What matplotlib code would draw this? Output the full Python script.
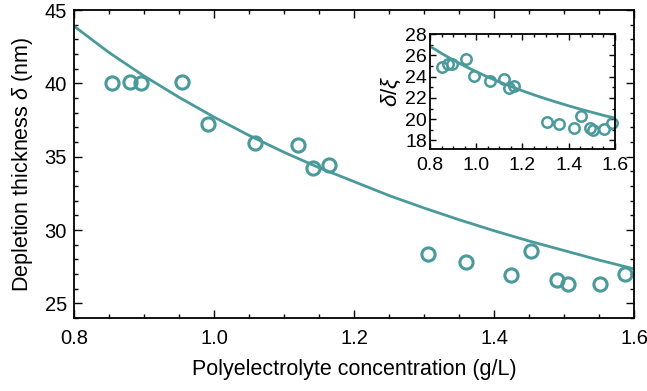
import numpy as np
import matplotlib.pyplot as plt
from matplotlib.ticker import MultipleLocator

# data
conc = [0.854, 0.880, 0.896, 0.954, 0.991, 1.059, 1.120, 1.141, 1.164,
        1.305, 1.360, 1.424, 1.453, 1.490, 1.505, 1.552, 1.587]
delta = [40.05, 40.1, 40.05, 40.1, 37.2, 35.95, 35.8, 34.25, 34.4,
         28.35, 27.8, 26.95, 28.6, 26.6, 26.3, 26.3, 27.0]
ratio = [24.9, 25.15, 25.2, 25.65, 24.05, 23.6, 23.8, 22.9, 23.15,
         19.7, 19.55, 19.15, 20.3, 19.15, 18.95, 19.05, 19.65]

# fitted curves, read every 0.05 g/L
fit_c = [0.8, 0.85, 0.9, 0.95, 1.0, 1.05, 1.1, 1.15, 1.2,
         1.25, 1.3, 1.35, 1.4, 1.45, 1.5, 1.55, 1.6]
fit_delta = [43.9, 42.1, 40.5, 39.05, 37.7, 36.45, 35.3, 34.25, 33.3,
             32.35, 31.5, 30.7, 29.95, 29.25, 28.6, 27.95, 27.35]
fit_ratio = [26.85, 26.18, 25.56, 24.99, 24.46, 23.96, 23.5, 23.07, 22.66,
             22.28, 21.92, 21.58, 21.25, 20.94, 20.65, 20.36, 20.1]

teal = "#4a9a9b"

plt.rcParams["font.family"] = ["Liberation Sans", "DejaVu Sans"]
plt.rcParams["mathtext.fontset"] = "custom"
plt.rcParams["mathtext.it"] = "Liberation Sans:italic"
plt.rcParams["mathtext.rm"] = "Liberation Sans"


def style_axes(ax, size=14.5):
    # inward ticks on all four sides
    ax.tick_params(which="both", direction="in", top=True, right=True,
                   labelsize=size, width=1.0, color="black")
    ax.tick_params(which="major", length=6)
    ax.tick_params(which="minor", length=3)
    for s in ax.spines.values():
        s.set_linewidth(1.3)


fig = plt.figure(figsize=(6.47, 3.91), dpi=100)
ax = fig.add_axes([0.1144, 0.1867, 0.8656, 0.7877])
ax.plot(fit_c, fit_delta, color=teal, lw=2)
ax.plot(conc, delta, "o", mfc="none", mec=teal, mew=2.2, ms=9.5, clip_on=False)
ax.set_xlim(0.8, 1.6)
ax.set_ylim(24, 45)
ax.xaxis.set_minor_locator(MultipleLocator(0.05))
ax.yaxis.set_major_locator(MultipleLocator(5))
ax.yaxis.set_minor_locator(MultipleLocator(1))
ax.set_xticks([0.8, 1.0, 1.2, 1.4, 1.6])
ax.set_xticklabels(["0.8", "1.0", "1.2", "1.4", "1.6"])
style_axes(ax)
ax.tick_params(axis="x", pad=8)
ax.tick_params(axis="y", pad=5)
ax.set_xlabel("Polyelectrolyte concentration (g/L)", fontsize=15.5, labelpad=8)
ax.set_ylabel(r"Depletion thickness $\delta$ (nm)", fontsize=15.5, labelpad=7)

ins = fig.add_axes([0.6646, 0.619, 0.2859, 0.294])
ins.plot(fit_c, fit_ratio, color=teal, lw=2)
ins.plot(conc, ratio, "o", mfc="none", mec=teal, mew=1.8, ms=7.5, clip_on=False)
ins.set_xlim(0.8, 1.6)
ins.set_ylim(17.2, 28)
ins.xaxis.set_minor_locator(MultipleLocator(0.05))
ins.yaxis.set_minor_locator(MultipleLocator(1))
ins.set_xticks([0.8, 1.0, 1.2, 1.4, 1.6])
ins.set_xticklabels(["0.8", "1.0", "1.2", "1.4", "1.6"])
ins.set_yticks([18, 20, 22, 24, 26, 28])
style_axes(ins, size=14)
ins.tick_params(which="major", length=4)
ins.tick_params(which="minor", length=2)
ins.tick_params(axis="x", pad=6)
ins.tick_params(axis="y", pad=2)
ins.set_ylabel(r"$\delta/\xi$", fontsize=16, labelpad=2)

fig.savefig("out.png", dpi=100)
